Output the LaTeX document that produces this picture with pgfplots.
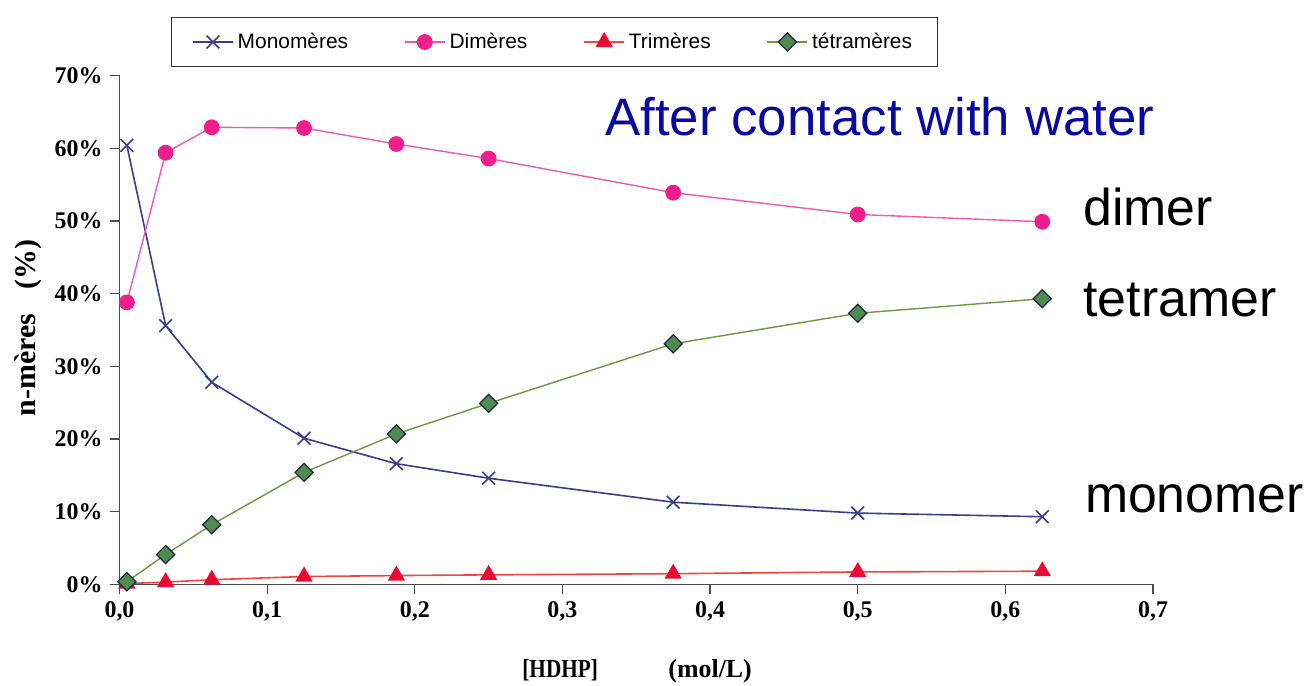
\documentclass[border=0pt]{standalone}
\usepackage{fontspec}
\setmainfont{Liberation Serif}
\newfontfamily\arial{Liberation Sans}
\usepackage{pgfplots}
\pgfplotsset{compat=1.18}
\definecolor{mono}{RGB}{58,60,140}
\definecolor{dim}{RGB}{240,30,140}
\definecolor{dimline}{RGB}{240,90,170}
\definecolor{tri}{RGB}{235,10,50}
\definecolor{triline}{RGB}{240,70,60}
\definecolor{tetfill}{RGB}{80,140,80}
\definecolor{tetline}{RGB}{110,150,70}
\definecolor{tetedge}{RGB}{30,40,60}
\definecolor{blueann}{RGB}{10,10,160}
\begin{document}
\begin{tikzpicture}
\path[use as bounding box] (0,0) rectangle (656bp,343bp);
\begin{axis}[
  at={(59.75bp,50.85bp)}, anchor=south west,
  scale only axis, width=516.75bp, height=254.3bp,
  xmin=0, xmax=0.7, ymin=0, ymax=70,
  axis x line=bottom, axis y line=left,
  axis line style={-, draw=black!70, line width=0.6bp},
  xtick={0,0.1,0.2,0.3,0.4,0.5,0.6,0.7},
  ytick={0,10,20,30,40,50,60,70},
  tick align=outside, major tick length=5bp,
  tick style={draw=black!70, line width=0.6bp},
  /pgf/number format/assume math mode=true,
  xticklabel style={/pgf/number format/.cd, fixed, fixed zerofill, precision=1, use comma},
  yticklabel={\pgfmathprintnumber{\tick}\%},
  ticklabel style={font=\bfseries\fontsize{12}{12}\selectfont},
  legend columns=4,
  legend style={at={(0.4205,1.0663)}, anchor=center, draw=black!80, line width=0.5bp,
    font=\arial\fontsize{10.5}{12}\selectfont, inner xsep=10.5bp, inner ysep=5.5bp,
    /tikz/every even column/.append style={column sep=26bp}},
  legend image code/.code={\draw[#1] plot coordinates {(0bp,0bp) (10bp,0bp) (20bp,0bp)};},
  clip=false,
]
\addplot[color=mono, line width=0.8bp, mark=x, mark size=4.5bp, legend image post style={mark repeat=2, mark phase=2}] coordinates {
(0.005,60.4) (0.03125,35.6) (0.0625,27.8) (0.125,20.1) (0.1875,16.6) (0.25,14.6) (0.375,11.3) (0.5,9.8) (0.625,9.3)};
\addplot[color=dimline, line width=0.7bp, mark=*, mark size=3.6bp, mark options={fill=dim, draw=dim}, legend image post style={mark repeat=2, mark phase=2}] coordinates {
(0.005,38.8) (0.03125,59.4) (0.0625,62.9) (0.125,62.8) (0.1875,60.6) (0.25,58.6) (0.375,53.9) (0.5,50.9) (0.625,49.9)};
\addplot[color=triline, line width=0.8bp, mark=triangle*, mark size=4.2bp, mark options={fill=tri, draw=tri}, legend image post style={mark repeat=2, mark phase=2}] coordinates {
(0.005,0.1) (0.03125,0.3) (0.0625,0.63) (0.125,1.07) (0.1875,1.2) (0.25,1.3) (0.375,1.46) (0.5,1.7) (0.625,1.8)};
\addplot[color=tetline, line width=0.7bp, mark=square*, mark size=3.2bp, mark options={rotate=45, fill=tetfill, draw=tetedge, line width=0.6bp}, legend image post style={mark repeat=2, mark phase=2}] coordinates {
(0.005,0.35) (0.03125,4.1) (0.0625,8.2) (0.125,15.4) (0.1875,20.7) (0.25,24.9) (0.375,33.1) (0.5,37.3) (0.625,39.3)};
\legend{Monomères,Dimères,Trimères,tétramères}
\end{axis}
\node[anchor=base west, inner sep=0pt, font=\arial\fontsize{26.5}{26.5}\selectfont, text=blueann] at (302.5bp,275.3bp) {After contact with water};
\node[anchor=base west, inner sep=0pt, font=\arial\fontsize{26}{26}\selectfont] at (541.5bp,230bp) {dimer};
\node[anchor=base west, inner sep=0pt, font=\arial\fontsize{26}{26}\selectfont] at (541.5bp,184.7bp) {tetramer};
\node[anchor=base west, inner sep=0pt, font=\arial\fontsize{26}{26}\selectfont] at (542.3bp,86.5bp) {monomer};
\node[rotate=90, inner sep=0pt, font=\bfseries\fontsize{15}{15}\selectfont] at (14bp,179bp) {n-mères\hspace{0.8em}(\%)};
\node[anchor=base west, inner sep=0pt, font=\bfseries\fontsize{13}{13}\selectfont] at (261bp,4.5bp) {\scalebox{0.82}[1]{[HDHP]}};
\node[anchor=base west, inner sep=0pt, font=\bfseries\fontsize{13}{13}\selectfont] at (334bp,4.5bp) {(mol/L)};
\end{tikzpicture}
\end{document}
